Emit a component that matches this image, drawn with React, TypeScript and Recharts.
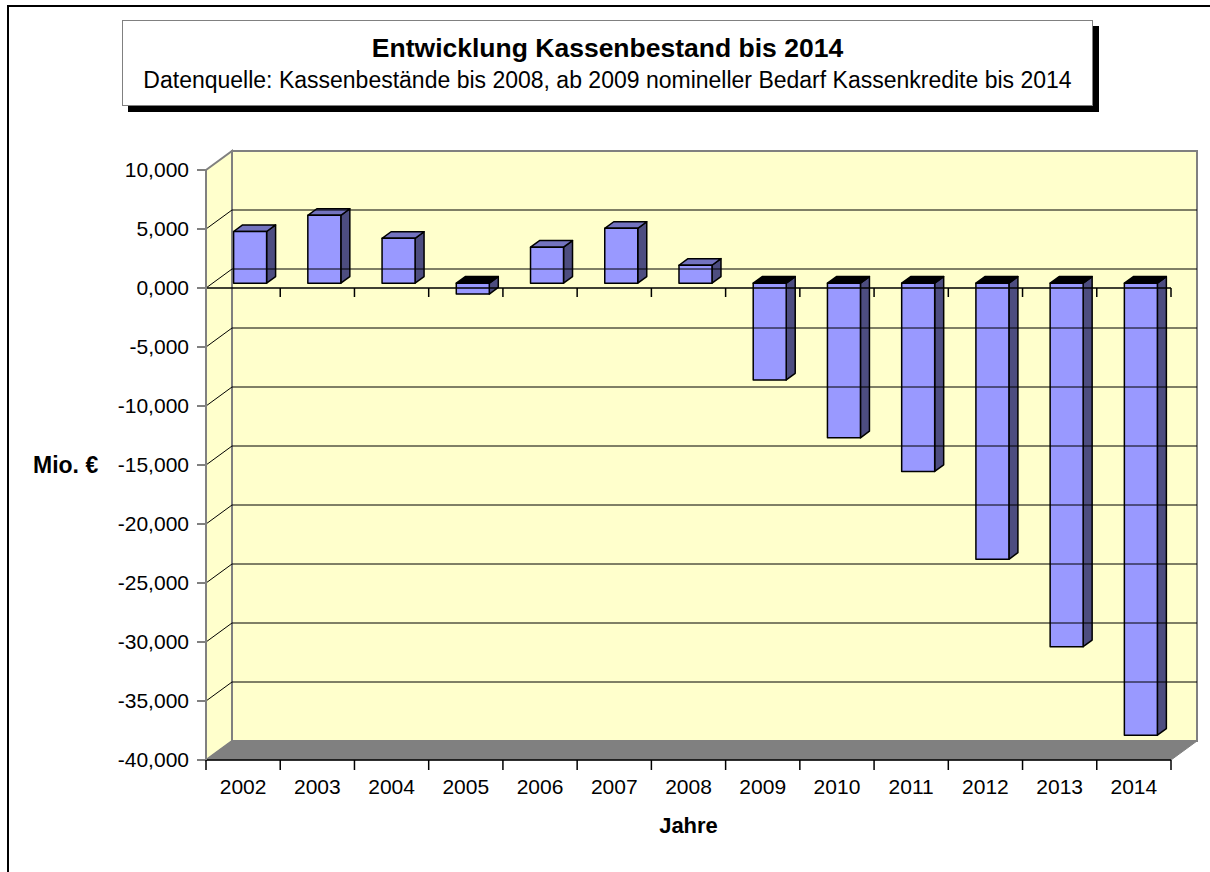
import { Bar, BarChart, ReferenceArea, ReferenceLine, XAxis, YAxis } from "recharts";

// Kassenbestand in Mio. €
const years = ["2002", "2003", "2004", "2005", "2006", "2007", "2008", "2009", "2010", "2011", "2012", "2013", "2014"];
const kassenbestand = [4.38, 5.75, 3.8, -0.92, 3.05, 4.65, 1.52, -8.2, -13.1, -15.95, -23.4, -30.8, -38.3];
const yTicks = [10, 5, 0, -5, -10, -15, -20, -25, -30, -35, -40];
const gridTicks = [5, 0, -5, -10, -15, -20, -25, -30, -35];

const data = years.map((y, i) => ({ year: y, value: kassenbestand[i] }));

const W = 1210;
const H = 872;
const M = { top: 170, right: 39, bottom: 0, left: 0 };
const Y_AXIS_W = 206;
const X_AXIS_H = 112;
const BAND = (W - M.right - Y_AXIS_W) / years.length;

// 3d depth of the plot (back wall offset) and of the bars
const DX = 26;
const DY = 19;
const BAR_FX = 6.6;
const BAR_FY = 4.8;
const BAR_DX = 9;
const BAR_DY = 6.6;

const FONT = '"Liberation Sans", Arial, sans-serif';
const fmt = (v: number) => v.toFixed(3).replace(".", ",");

function Walls(props: any) {
  const { x, y, width: w, height: h } = props;
  return (
    <g>
      <polygon
        points={`${x},${y} ${x + DX},${y - DY} ${x + DX},${y + h - DY} ${x},${y + h}`}
        fill="#FFFFCC"
        stroke="#808080"
        strokeWidth={2}
      />
      <rect x={x + DX} y={y - DY} width={w} height={h} fill="#FFFFCC" stroke="#808080" strokeWidth={2} />
      <polygon
        points={`${x},${y + h} ${x + DX},${y + h - DY} ${x + w + DX},${y + h - DY} ${x + w},${y + h}`}
        fill="#808080"
        stroke="#808080"
      />
    </g>
  );
}

function GridLine(props: any) {
  const { x1, x2, y1 } = props;
  return (
    <g>
      <line x1={x1 + DX} x2={x2 + DX} y1={y1 - DY} y2={y1 - DY} stroke="#000" strokeWidth={1} />
      <line x1={x1} x2={x1 + DX} y1={y1} y2={y1 - DY} stroke="#000" strokeWidth={1} />
    </g>
  );
}

function ZeroAxis(props: any) {
  const { x1, x2, y1 } = props;
  const ticks = years.map((_, i) => x1 + BAND * (i + 1));
  return (
    <g>
      <line x1={x1} x2={x2} y1={y1} y2={y1} stroke="#000" strokeWidth={1.5} />
      {ticks.map((tx, i) => (
        <line key={i} x1={tx} x2={tx} y1={y1} y2={y1 + 9} stroke="#000" strokeWidth={1.5} />
      ))}
    </g>
  );
}

function Bar3D(props: any) {
  const { x, y, width, height, payload } = props;
  const top = Math.min(y, y + height) - BAR_FY;
  const bot = Math.max(y, y + height) - BAR_FY;
  const fx = x + BAR_FX;
  const neg = payload.value < 0;
  return (
    <g stroke="#000" strokeWidth={1.5} strokeLinejoin="round">
      <polygon
        points={`${fx + width},${top} ${fx + width + BAR_DX},${top - BAR_DY} ${fx + width + BAR_DX},${bot - BAR_DY} ${fx + width},${bot}`}
        fill="#4D4D80"
      />
      <polygon
        points={`${fx},${top} ${fx + BAR_DX},${top - BAR_DY} ${fx + width + BAR_DX},${top - BAR_DY} ${fx + width},${top}`}
        fill={neg ? "#000" : "#7373BF"}
      />
      <rect x={fx} y={top} width={width} height={bot - top} fill="#9999FF" />
    </g>
  );
}

function YearTick(props: any) {
  const { x, y, payload, index } = props;
  const half = BAND / 2;
  return (
    <g>
      <line x1={x - half} x2={x - half} y1={y} y2={y + 10} stroke="#000" strokeWidth={1.5} />
      {index === years.length - 1 && (
        <line x1={x + half} x2={x + half} y1={y} y2={y + 10} stroke="#000" strokeWidth={1.5} />
      )}
      <text x={x} y={y + 34} textAnchor="middle" fontSize={21} fontFamily={FONT} fill="#000">
        {payload.value}
      </text>
    </g>
  );
}

export default function App() {
  return (
    <div style={{ position: "absolute", left: 0, top: 0, width: W, height: H, overflow: "hidden", background: "#fff", fontFamily: FONT }}>
      <svg width={W} height={H} style={{ position: "absolute", left: 0, top: 0 }}>
        <path d={`M8,${H} L8,6 L${W},6`} fill="none" stroke="#000" strokeWidth={2} />
      </svg>
      <div style={{ position: "absolute", left: 0, top: 0 }}>
        <BarChart width={W} height={H} data={data} margin={M}>
          <ReferenceArea y1={-40} y2={10} shape={<Walls />} />
          {gridTicks.map((t) => (
            <ReferenceLine key={t} y={t} shape={(p: any) => <GridLine {...p} />} />
          ))}
          <ReferenceLine y={0} shape={(p: any) => <ZeroAxis {...p} />} />
          <XAxis
            dataKey="year"
            height={X_AXIS_H}
            interval={0}
            tickLine={false}
            tickSize={0}
            tickMargin={0}
            axisLine={{ stroke: "#000", strokeWidth: 1.5 }}
            tick={(p: any) => <YearTick {...p} />}
            label={{ value: "Jahre", position: "insideTop", offset: 57, fontSize: 22, fontWeight: "bold", fill: "#000", fontFamily: FONT }}
          />
          <YAxis
            width={Y_AXIS_W}
            domain={[-40, 10]}
            ticks={yTicks}
            interval={0}
            tickFormatter={fmt}
            tickSize={9}
            tickMargin={8}
            axisLine={{ stroke: "#808080", strokeWidth: 2 }}
            tickLine={{ stroke: "#808080", strokeWidth: 2 }}
            tick={{ fill: "#000", fontSize: 21, fontFamily: FONT }}
            label={{ value: "Mio. €", position: "insideLeft", offset: 33, fontSize: 23, fontWeight: "bold", fill: "#000", fontFamily: FONT }}
          />
          <Bar dataKey="value" barSize={33} isAnimationActive={false} shape={(p: any) => <Bar3D {...p} />} />
        </BarChart>
      </div>
      <div
        style={{
          position: "absolute",
          left: 122,
          top: 20,
          width: 969,
          height: 84,
          border: "1px solid #808080",
          boxShadow: "6px 6px 0 #000",
          background: "#fff",
          textAlign: "center",
          color: "#000",
        }}
      >
        <div style={{ fontSize: 26.5, fontWeight: "bold", marginTop: 12, lineHeight: "30px" }}>Entwicklung Kassenbestand bis 2014</div>
        <div style={{ fontSize: 23, marginTop: 3, lineHeight: "28px" }}>
          Datenquelle: Kassenbestände bis 2008, ab 2009 nomineller Bedarf Kassenkredite bis 2014
        </div>
      </div>
    </div>
  );
}
